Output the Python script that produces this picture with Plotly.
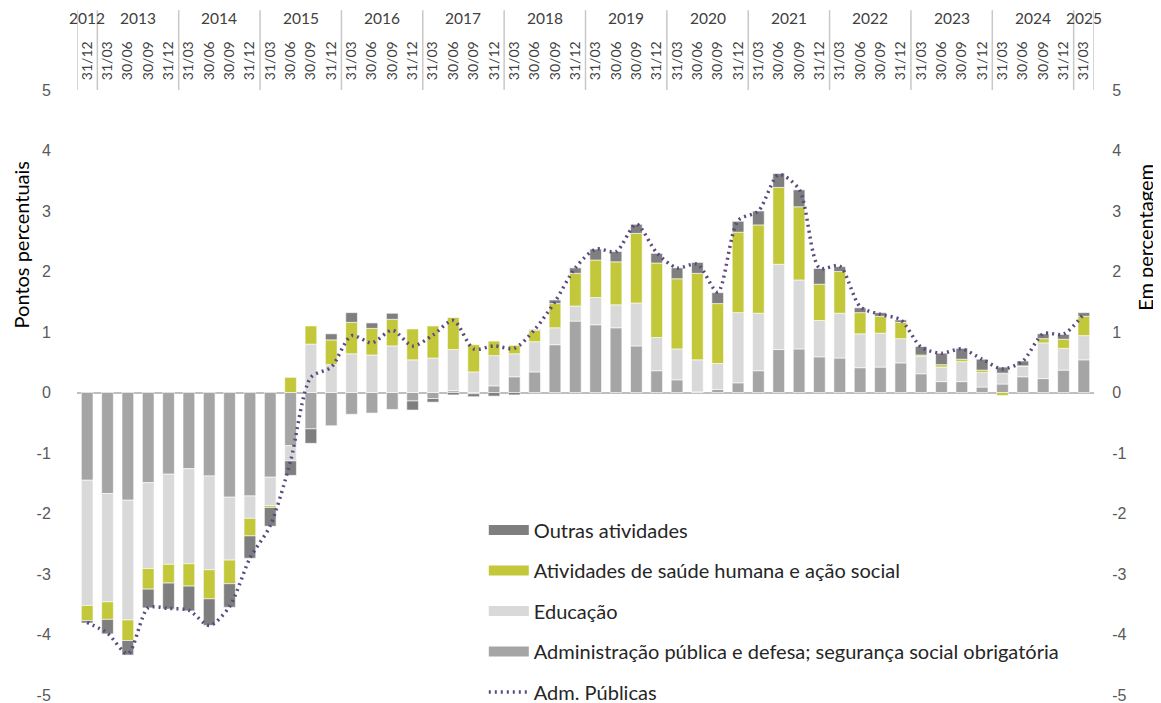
import plotly.graph_objects as go

# trimestres de 31/12/2012 a 31/03/2025
trimestres = ["31/03", "30/06", "30/09", "31/12"]
datas = ["31/12"] + trimestres * 12 + ["31/03"]
anos = ["2012"] + [str(a) for a in range(2013, 2025) for _ in range(4)] + ["2025"]

# contributos (pontos percentuais)
admin = [-1.45, -1.67, -1.78, -1.49, -1.35, -1.26, -1.38, -1.73, -1.71, -1.40,
         -0.88, -0.60, -0.55, -0.36, -0.34, -0.28, -0.14, -0.10, 0.03, -0.02,
         0.11, 0.26, 0.34, 0.79, 1.18, 1.12, 1.07, 0.77, 0.36, 0.21,
         0.01, 0.05, 0.16, 0.36, 0.71, 0.72, 0.59, 0.57, 0.41, 0.42,
         0.49, 0.31, 0.18, 0.18, 0.09, 0.14, 0.26, 0.23, 0.37, 0.54]
educacao = [-2.07, -1.79, -1.98, -1.42, -1.49, -1.57, -1.55, -1.04, -0.37, -0.47,
            -0.25, 0.80, 0.46, 0.64, 0.62, 0.77, 0.54, 0.57, 0.68, 0.34,
            0.50, 0.38, 0.50, 0.28, 0.25, 0.45, 0.38, 0.71, 0.55, 0.51,
            0.53, 0.43, 1.16, 0.95, 1.41, 1.14, 0.60, 0.74, 0.56, 0.56,
            0.40, 0.29, 0.24, 0.33, 0.24, 0.18, 0.17, 0.59, 0.36, 0.40]
saude = [-0.25, -0.29, -0.34, -0.34, -0.31, -0.37, -0.48, -0.39, -0.29, -0.03,
         0.25, 0.30, 0.41, 0.52, 0.44, 0.44, 0.51, 0.53, 0.53, 0.45,
         0.24, 0.14, 0.19, 0.40, 0.54, 0.62, 0.71, 1.15, 1.23, 1.16,
         1.43, 0.99, 1.33, 1.46, 1.27, 1.21, 0.60, 0.69, 0.35, 0.28,
         0.27, 0.02, 0.04, 0.04, 0.04, -0.05, 0.01, 0.07, 0.15, 0.32]
outras = [-0.04, -0.24, -0.24, -0.31, -0.43, -0.41, -0.44, -0.39, -0.37, -0.31,
          -0.24, -0.24, 0.10, 0.16, 0.09, 0.10, -0.15, -0.06, -0.04, -0.05,
          -0.06, -0.04, 0.01, 0.06, 0.09, 0.18, 0.17, 0.15, 0.16, 0.18,
          0.18, 0.18, 0.18, 0.23, 0.23, 0.28, 0.26, 0.08, 0.08, 0.06,
          0.04, 0.14, 0.19, 0.18, 0.18, 0.10, 0.08, 0.08, 0.08, 0.06]
# taxa de variação (%)
adm_publicas = [-3.80, -3.98, -4.32, -3.56, -3.57, -3.60, -3.85, -3.54, -2.74, -2.20,
                -1.13, 0.25, 0.42, 0.94, 0.82, 1.03, 0.77, 0.95, 1.19, 0.72,
                0.77, 0.73, 1.04, 1.50, 2.06, 2.37, 2.33, 2.78, 2.31, 2.06,
                2.12, 1.66, 2.84, 3.00, 3.60, 3.36, 2.06, 2.09, 1.42, 1.29,
                1.20, 0.75, 0.65, 0.72, 0.55, 0.39, 0.52, 0.97, 0.965, 1.30]

y_ticks = [5, 4, 3, 2, 1, 0, -1, -2, -3, -4, -5]
y_ticktext = ["5", "4", "3", "2", "1", "0", "-1", "-2", "-3", "-4", "-5"]

CINZA = "#A5A5A5"
CINZA_CLARO = "#D9D9D9"
VERDE = "#C3C83B"
CINZA_ESCURO = "#7F7F7F"
ROXO = "#5B4A80"
FONTE = "Lato"

x = list(range(len(datas)))

series = [
    ("Administração pública e defesa; segurança social obrigatória", admin, CINZA, 4),
    ("Educação", educacao, CINZA_CLARO, 3),
    ("Atividades de saúde humana e ação social", saude, VERDE, 2),
    ("Outras atividades", outras, CINZA_ESCURO, 1),
]

fig = go.Figure()
for nome, valores, cor, rank in series:
    fig.add_trace(go.Bar(x=x, y=valores, name=nome, marker=dict(color=cor, line=dict(color="white", width=0.6)),
                         showlegend=False))
    # entrada de legenda em forma de retângulo
    fig.add_trace(go.Scatter(x=[None], y=[None], mode="lines", name=nome, legendgroup=nome,
                             legendrank=rank, line=dict(color=cor, width=13)))

fig.add_trace(go.Scatter(x=x, y=adm_publicas, name="Adm. Públicas", mode="lines", yaxis="y2",
                         legendgroup="adm", legendrank=5,
                         line=dict(color=ROXO, width=3.5, dash="2px,4px", shape="spline", smoothing=0.8)))

# rótulos dos anos e separadores no eixo superior
anos_unicos = list(dict.fromkeys(anos))
for ano in anos_unicos:
    idx = [i for i, a in enumerate(anos) if a == ano]
    fig.add_annotation(x=sum(idx) / len(idx), y=1.119, xref="x", yref="paper", text=ano,
                       xanchor="center", yanchor="middle", showarrow=False,
                       font=dict(family=FONTE, size=15.5, color="#404040"))
limites = [-0.5] + [i - 0.5 for i in range(1, len(anos)) if anos[i] != anos[i - 1]] + [len(anos) - 0.5]
for b in limites:
    fig.add_shape(type="line", x0=b, x1=b, y0=1.0, y1=1.132, xref="x", yref="paper",
                  line=dict(color="#C8C8C8", width=1.5))

fig.add_annotation(x=-0.0555, y=0.744, xref="paper", yref="paper", text="Pontos percentuais",
                   xanchor="center", yanchor="middle", textangle=-90, showarrow=False,
                   font=dict(family=FONTE, size=20, color="black"))
fig.add_annotation(x=1.050, y=0.757, xref="paper", yref="paper", text="Em percentagem",
                   xanchor="center", yanchor="middle", textangle=-90, showarrow=False,
                   font=dict(family=FONTE, size=20, color="black"))

eixo_y = dict(range=[-5, 5], tickmode="array", tickvals=y_ticks, ticktext=y_ticktext,
              showgrid=False, automargin=False, ticks="outside", tickcolor="rgba(0,0,0,0)",
              ticklabeloverflow="allow",
              tickfont=dict(family="Liberation Sans", size=16, color="#595959"))

# a página tem 8px de margem no body: a figura é reduzida e as margens compensadas
fig.update_layout(
    width=1153, height=695,
    margin=dict(l=69, r=67, t=82, b=8, autoexpand=False),
    barmode="relative", bargap=0.425,
    plot_bgcolor="white", paper_bgcolor="white",
    font=dict(family=FONTE, size=17, color="#262626"),
    xaxis=dict(side="top", tickmode="array", tickvals=x, ticktext=datas, tickangle=-90,
               range=[-0.5, len(x) - 0.5], showgrid=False, zeroline=False, showline=False,
               automargin=False, ticks="outside", ticklen=6, tickcolor="rgba(0,0,0,0)",
               tickfont=dict(family=FONTE, size=14, color="#404040")),
    yaxis=dict(eixo_y, zeroline=True, zerolinecolor="#BFBFBF", zerolinewidth=2, ticklen=22),
    yaxis2=dict(eixo_y, overlaying="y", side="right", zeroline=False, ticklen=14),
    legend=dict(x=0.400, y=0.305, xanchor="left", yanchor="top", traceorder="grouped",
                tracegroupgap=11.5, itemwidth=40, bgcolor="rgba(0,0,0,0)",
                font=dict(family=FONTE, size=20, color="#262626")),
)

fig.write_html("out.html")
